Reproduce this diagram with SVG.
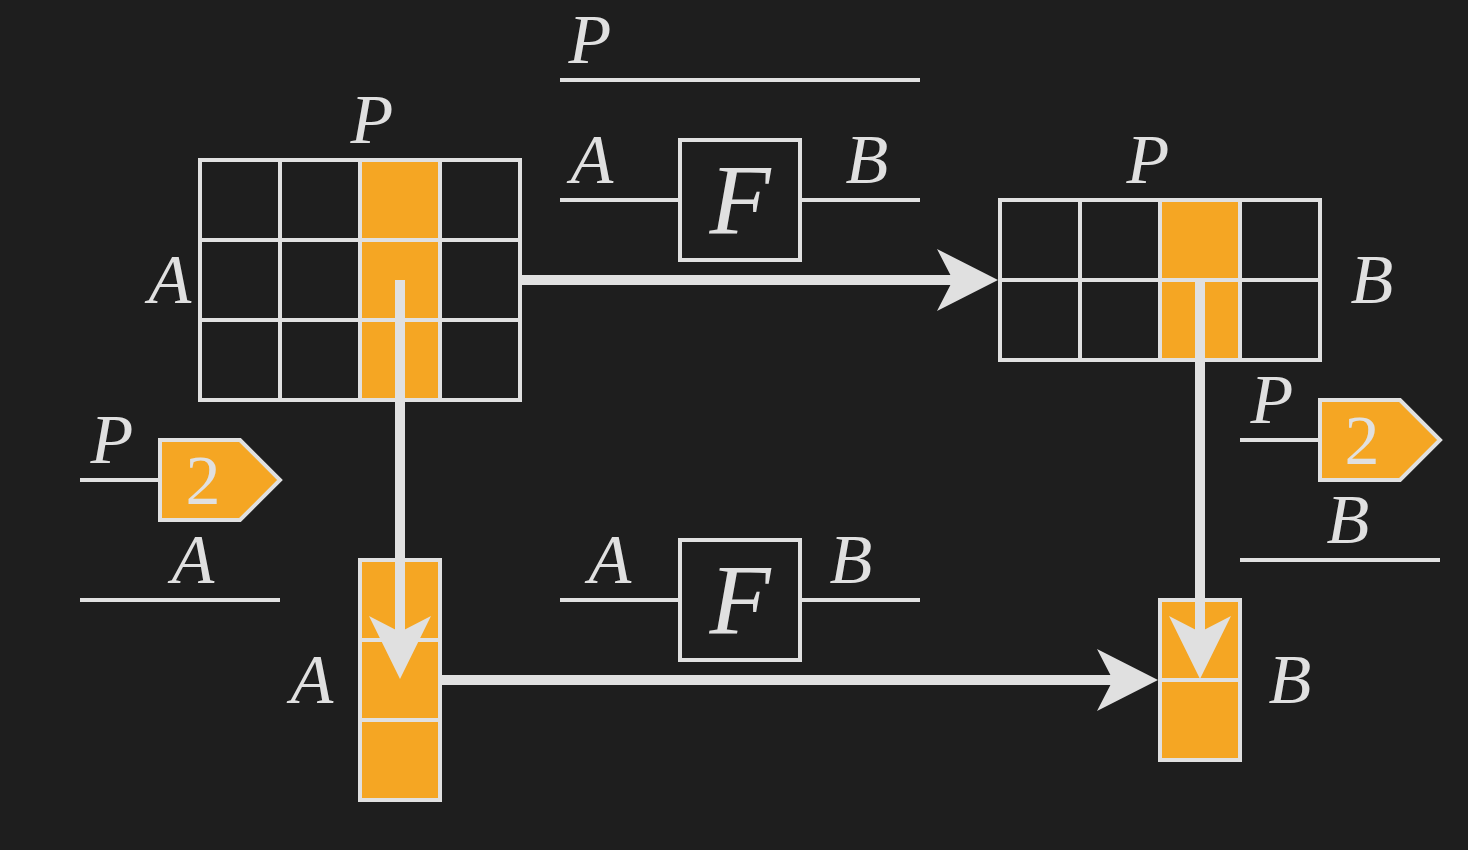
<svg xmlns="http://www.w3.org/2000/svg" width="1468" height="850" viewBox="0 0 1468 850">
<style>
.t{font-family:"Liberation Serif","DejaVu Serif",serif;font-style:italic;fill:#e0e0e0;font-size:70px;text-anchor:middle}
.f{font-size:100px}
.n{font-family:"Liberation Serif","DejaVu Serif",serif;fill:#e0e0e0;font-size:70px;text-anchor:middle}
.c{fill:none;stroke:#e0e0e0;stroke-width:4}
.o{fill:#f5a623;stroke:#e0e0e0;stroke-width:4}
.l{stroke:#e0e0e0;stroke-width:4;fill:none}
.a{stroke:#e0e0e0;stroke-width:10;fill:none}
.h{fill:#e0e0e0}
</style>
<rect width="1468" height="850" fill="#1e1e1e"/>
<g id="gridA">
<rect class="o" x="360" y="160" width="80" height="240"/>
<path class="c" d="M200 160H520V400H200Z M280 160V400 M360 160V400 M440 160V400 M200 240H520 M200 320H520"/>
<text class="t" x="372" y="143">P</text>
<text class="t" x="170" y="303">A</text>
</g>
<g id="gridB">
<rect class="o" x="1160" y="200" width="80" height="160"/>
<path class="c" d="M1000 200H1320V360H1000Z M1080 200V360 M1160 200V360 M1240 200V360 M1000 280H1320"/>
<text class="t" x="1148" y="183">P</text>
<text class="t" x="1372" y="303">B</text>
</g>
<g id="vecA">
<rect class="o" x="360" y="560" width="80" height="240"/>
<path class="c" d="M360 640H440 M360 720H440"/>
<text class="t" x="312" y="703">A</text>
</g>
<g id="vecB">
<rect class="o" x="1160" y="600" width="80" height="160"/>
<path class="c" d="M1160 680H1240"/>
<text class="t" x="1290" y="703">B</text>
</g>
<g id="topLegend">
<line class="l" x1="560" y1="80" x2="920" y2="80"/>
<text class="t" x="590" y="63">P</text>
<path class="l" d="M560 200H680 M800 200H920"/>
<rect class="c" x="680" y="140" width="120" height="120"/>
<text class="t f" x="740" y="233">F</text>
<text class="t" x="592" y="183">A</text>
<text class="t" x="867" y="183">B</text>
</g>
<g id="bottomLegend">
<path class="l" d="M560 600H680 M800 600H920"/>
<rect class="c" x="680" y="540" width="120" height="120"/>
<text class="t f" x="740" y="633">F</text>
<text class="t" x="610" y="583">A</text>
<text class="t" x="851" y="583">B</text>
</g>
<g id="leftTag">
<line class="l" x1="80" y1="480" x2="160" y2="480"/>
<path class="o" d="M160 440H240L280 480L240 520H160Z"/>
<text class="n" x="203" y="504">2</text>
<text class="t" x="112" y="463">P</text>
<line class="l" x1="80" y1="600" x2="280" y2="600"/>
<text class="t" x="193" y="583">A</text>
</g>
<g id="rightTag">
<line class="l" x1="1240" y1="440" x2="1320" y2="440"/>
<path class="o" d="M1320 400H1400L1440 440L1400 480H1320Z"/>
<text class="n" x="1362" y="464">2</text>
<text class="t" x="1272" y="423">P</text>
<line class="l" x1="1240" y1="560" x2="1440" y2="560"/>
<text class="t" x="1348" y="543">B</text>
</g>
<g id="connectors">
<line class="a" x1="520" y1="280" x2="955" y2="280"/>
<path class="h" d="M998 280L937 249L953 280L937 311Z"/>
<line class="a" x1="400" y1="280" x2="400" y2="635"/>
<path class="h" d="M400 679L369 616L400 632L431 616Z"/>
<line class="a" x1="440" y1="680" x2="1115" y2="680"/>
<path class="h" d="M1158 680L1097 649L1113 680L1097 711Z"/>
<line class="a" x1="1200" y1="280" x2="1200" y2="635"/>
<path class="h" d="M1200 679L1169 616L1200 632L1231 616Z"/>
</g>
</svg>
